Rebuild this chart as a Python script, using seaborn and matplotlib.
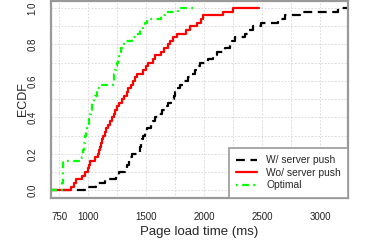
import numpy as np
import pandas as pd
import matplotlib
matplotlib.use("Agg")
import matplotlib.pyplot as plt
import seaborn as sns

# Page load times (ms) (50 samples each)
w_push = [1000, 1070, 1145, 1238, 1265, 1320, 1338, 1348, 1362, 1378,
          1443, 1447, 1455, 1466, 1476, 1490, 1504, 1540, 1560, 1578,
          1604, 1633, 1660, 1690, 1715, 1740, 1750, 1760, 1790, 1830,
          1860, 1894, 1920, 1945, 1965, 2030, 2080, 2115, 2180, 2220,
          2240, 2266, 2350, 2390, 2420, 2495, 2640, 2700, 2830, 3155]
wo_push = [853, 880, 895, 945, 975, 995, 1002, 1012, 1060, 1080,
           1092, 1100, 1108, 1118, 1130, 1140, 1150, 1172, 1188, 1205,
           1220, 1232, 1244, 1268, 1290, 1305, 1330, 1346, 1365, 1385,
           1400, 1418, 1475, 1495, 1518, 1555, 1580, 1625, 1655, 1685,
           1702, 1730, 1770, 1840, 1880, 1938, 1970, 1994, 2166, 2252]
optimal = [775, 777, 778, 778, 779, 780, 781, 782, 948, 952,
           958, 962, 966, 970, 975, 982, 990, 996, 1002, 1008,
           1014, 1020, 1028, 1035, 1050, 1062, 1075, 1085, 1100, 1210,
           1218, 1224, 1230, 1238, 1245, 1255, 1262, 1270, 1280, 1295,
           1306, 1380, 1410, 1447, 1470, 1490, 1504, 1630, 1660, 1775]

labels = ["W/ server push", "Wo/ server push", "Optimal"]
colors = ["black", "#ff0000", "#00ff00"]
styles = [(0, (4, 2.5)), "-", (0, (0.8, 2, 3, 2))]
x_ticks = [750, 1000, 1250, 1500, 1750, 2000, 2250, 2500, 2750, 3000]
x_ticklabels = ["750", "1000", "", "1500", "", "2000", "", "2500", "", "3000"]
y_ticks = [0.0, 0.2, 0.4, 0.6, 0.8, 1.0]

sns.set_style("white")
plt.rcParams["font.family"] = ["Liberation Sans", "DejaVu Sans"]

fig = plt.figure(figsize=(3.74, 2.49), dpi=100)
ax = fig.add_axes([51 / 374, 1 - 197.6 / 249, 297 / 374, 196.9 / 249])
xlim = (678, 3242)
ax.set_xlim(*xlim)
ax.set_ylim(-0.04, 1.04)

# grid
for gx in x_ticks:
    ax.axvline(gx, color="#d4d4d4", lw=0.6, ls=(0, (2, 2)), zorder=0)
for gy in np.arange(0, 1.01, 0.1):
    ax.axhline(gy, color="#d4d4d4", lw=0.6, ls=(0, (2, 2)), zorder=0)

handles = []
for data, lab, col, st in zip([w_push, wo_push, optimal], labels, colors, styles):
    v = np.sort(np.asarray(data, dtype=float))
    n = len(v)
    rng = v[-1] - v[0]
    xs = np.concatenate([[v[0] - 0.16 * rng], v, [v[-1] + 0.16 * rng]])
    ys = np.concatenate([[0.0], np.arange(1, n + 1) / n, [1.0]])
    df = pd.DataFrame({"x": xs, "y": ys})
    sns.lineplot(data=df, x="x", y="y", ax=ax, estimator=None, sort=False,
                 drawstyle="steps-post", color=col, lw=1.6, linestyle=st)
    h, = ax.plot([], [], color=col, lw=1.6, linestyle=st, label=lab)
    handles.append(h)

ax.set_xticks(x_ticks)
ax.set_xticklabels(x_ticklabels)
ax.set_yticks(y_ticks)
ax.set_yticklabels([f"{t:.1f}" for t in y_ticks], rotation=90, va="center")
ax.tick_params(axis="both", direction="out", length=5, width=1.2,
               color="#999999", labelsize=7, labelcolor="#222222")
ax.tick_params(axis="x", pad=5.5)
ax.tick_params(axis="y", pad=4.5)
for sp in ax.spines.values():
    sp.set_color("#999999")
    sp.set_linewidth(1.6)
    sp.set_visible(True)

ax.set_xlabel("Page load time (ms)", fontsize=9.5, labelpad=3)
ax.set_ylabel("ECDF", fontsize=9, labelpad=-1)

leg = ax.legend(handles=handles, loc="lower right", borderaxespad=0,
                fontsize=7.4, handlelength=2.0, handletextpad=0.9,
                labelspacing=0.25, borderpad=0.7, fancybox=False,
                framealpha=1, edgecolor="#999999")
leg.get_frame().set_linewidth(1.2)

fig.savefig("out.png", dpi=100)
